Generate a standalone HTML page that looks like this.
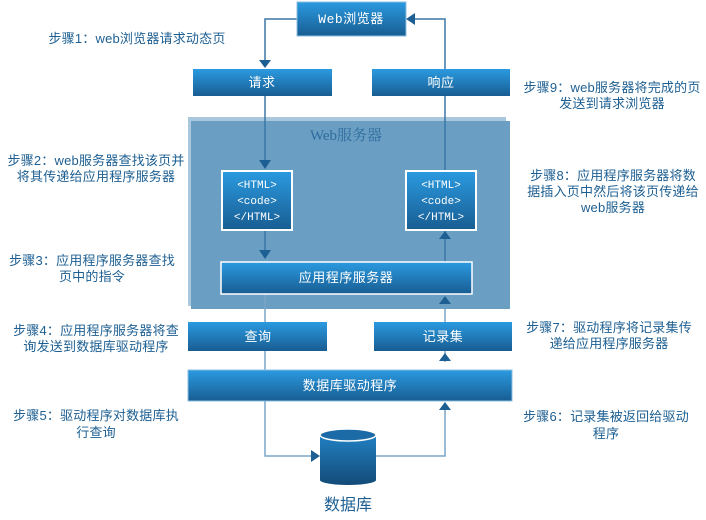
<!DOCTYPE html>
<html><head><meta charset="utf-8"><style>
html,body{margin:0;padding:0;background:#fff;width:706px;height:520px;overflow:hidden}
svg text{font-family:"Liberation Sans","Noto Sans CJK SC",sans-serif}
.s{font-size:13px;fill:#1d5f92;letter-spacing:0.2px}
.b{font-size:13px;fill:#fff;letter-spacing:0.5px}
.m{font-family:"Liberation Mono","Noto Sans CJK SC",monospace !important;font-size:11px;fill:#fff}
</style></head><body>
<svg width="706" height="520" viewBox="0 0 706 520" xmlns="http://www.w3.org/2000/svg">
<defs>
<linearGradient id="g" x1="0" y1="0" x2="0" y2="1"><stop offset="0" stop-color="#2b9ae0"/><stop offset="1" stop-color="#185d92"/></linearGradient>
<linearGradient id="c" x1="0" y1="0" x2="0" y2="1"><stop offset="0" stop-color="#2180c2"/><stop offset="1" stop-color="#134b78"/></linearGradient>
</defs>
<rect x="188" y="117" width="318" height="189" fill="#a9c7dd"/>
<rect x="191" y="121" width="319" height="188" fill="#6a9fc3"/>
<text x="346" y="140" text-anchor="middle" style="font-family:'Liberation Serif','Noto Serif CJK SC',serif;font-size:15px;fill:#2d6c9e">Web服务器</text>
<g stroke="#3a77a6" stroke-width="1.5" fill="none">
<polyline points="297,19 265,19 265,62"/>
<line x1="265" y1="96" x2="265" y2="163"/>
<line x1="265" y1="230" x2="265" y2="255"/>
<polyline points="445,170 445,19 414,19"/>
<line x1="445" y1="230" x2="445" y2="262"/>
</g>
<g stroke="#7aa6c8" stroke-width="1.5" fill="none">
<line x1="265" y1="294" x2="265" y2="322"/>
<line x1="265" y1="351" x2="265" y2="370"/>
<line x1="445" y1="309" x2="445" y2="322"/>
<line x1="445" y1="351" x2="445" y2="362"/>
<polyline points="265,401 265,456 313,456"/>
<polyline points="376,456 445,456 445,408"/>
</g>
<g fill="#1d5f92">
<polygon points="259,60 271,60 265,68"/>
<polygon points="259,160 271,160 265,169"/>
<polygon points="259,250 271,250 265,259"/>
<polygon points="406,19 415,13 415,25"/>
<polygon points="439,239 451,239 445,231"/>
<polygon points="439,304 451,304 445,296"/>
<polygon points="439,361 451,361 445,353"/>
<polygon points="439,410 451,410 445,402"/>
<polygon points="311,450 311,462 320,456"/>
</g>
<rect x="297" y="2" width="109" height="34" fill="url(#g)" stroke="#8cbde0" stroke-width="1"/>
<text x="351" y="23" text-anchor="middle" class="b" style="font-family:'Liberation Mono','Noto Sans CJK SC',monospace">Web浏览器</text>
<rect x="193" y="69" width="139" height="27" fill="url(#g)"/>
<text x="262" y="87" text-anchor="middle" class="b">请求</text>
<rect x="372" y="69" width="138" height="27" fill="url(#g)"/>
<text x="441" y="87" text-anchor="middle" class="b">响应</text>
<rect x="222" y="171" width="70" height="59" fill="url(#g)" stroke="#fff" stroke-width="2"/>
<text x="257" y="188" text-anchor="middle" class="m">&lt;HTML&gt;</text>
<text x="257" y="204" text-anchor="middle" class="m">&lt;code&gt;</text>
<text x="257" y="220" text-anchor="middle" class="m">&lt;/HTML&gt;</text>
<rect x="406" y="171" width="70" height="59" fill="url(#g)" stroke="#fff" stroke-width="2"/>
<text x="441" y="188" text-anchor="middle" class="m">&lt;HTML&gt;</text>
<text x="441" y="204" text-anchor="middle" class="m">&lt;code&gt;</text>
<text x="441" y="220" text-anchor="middle" class="m">&lt;/HTML&gt;</text>
<rect x="221" y="262" width="251" height="32" fill="url(#g)" stroke="#fff" stroke-width="1.5"/>
<text x="346" y="282" text-anchor="middle" class="b">应用程序服务器</text>
<rect x="188" y="322" width="139" height="29" fill="url(#g)"/>
<text x="258" y="341" text-anchor="middle" class="b">查询</text>
<rect x="374" y="322" width="138" height="29" fill="url(#g)"/>
<text x="443" y="341" text-anchor="middle" class="b">记录集</text>
<rect x="188" y="370" width="324" height="31" fill="url(#g)" stroke="#8cbde0" stroke-width="1"/>
<text x="350" y="390" text-anchor="middle" class="b">数据库驱动程序</text>
<path d="M320,435 L320,480 A28,5 0 0 0 376,480 L376,435 Z" fill="url(#c)"/>
<ellipse cx="348" cy="435" rx="28" ry="6" fill="#1c6aa6" stroke="#fff" stroke-width="1.5"/>
<text x="348" y="510" text-anchor="middle" style="font-size:16px;fill:#1d5f92">数据库</text>
<text class="s" x="137" y="43" text-anchor="middle">步骤1：web浏览器请求动态页</text>
<text class="s" x="96" y="165" text-anchor="middle">步骤2：web服务器查找该页并</text>
<text class="s" x="96" y="181" text-anchor="middle">将其传递给应用程序服务器</text>
<text class="s" x="92" y="265" text-anchor="middle">步骤3：应用程序服务器查找</text>
<text class="s" x="92" y="281" text-anchor="middle">页中的指令</text>
<text class="s" x="96" y="335" text-anchor="middle">步骤4：应用程序服务器将查</text>
<text class="s" x="96" y="351" text-anchor="middle">询发送到数据库驱动程序</text>
<text class="s" x="96" y="420" text-anchor="middle">步骤5：驱动程序对数据库执</text>
<text class="s" x="96" y="437" text-anchor="middle">行查询</text>
<text class="s" x="612" y="92" text-anchor="middle">步骤9：web服务器将完成的页</text>
<text class="s" x="612" y="108" text-anchor="middle">发送到请求浏览器</text>
<text class="s" x="613" y="180" text-anchor="middle">步骤8：应用程序服务器将数</text>
<text class="s" x="613" y="196" text-anchor="middle">据插入页中然后将该页传递给</text>
<text class="s" x="613" y="212" text-anchor="middle">web服务器</text>
<text class="s" x="609" y="332" text-anchor="middle">步骤7：驱动程序将记录集传</text>
<text class="s" x="609" y="348" text-anchor="middle">递给应用程序服务器</text>
<text class="s" x="606" y="421" text-anchor="middle">步骤6：记录集被返回给驱动</text>
<text class="s" x="606" y="438" text-anchor="middle">程序</text>
</svg>
</body></html>
